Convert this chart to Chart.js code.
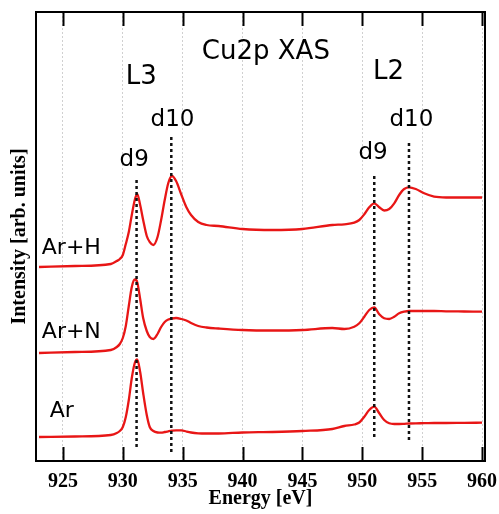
<!DOCTYPE html>
<html>
<head>
<meta charset="utf-8">
<script src="https://cdn.jsdelivr.net/npm/chart.js@4"></script>
<style>
  html, body { margin: 0; padding: 0; background: #fff; }
  #wrap { width: 499px; height: 514px; }
</style>
</head>
<body>
<div id="wrap"><canvas id="chart" width="499" height="514"></canvas></div>
<script>
// photon energy (eV), shared by the three spectra
const energy = [923, 926,
    929.0, 929.5, 929.75, 930.0, 930.25, 930.5, 930.75, 931.0, 931.2, 931.45, 931.7, 932.0, 932.25,
    932.55, 932.9, 933.2, 933.5, 933.8, 934.1, 934.45, 934.9, 935.3, 935.7, 936.3, 937.0, 938.0,
    940, 942.5, 945, 947.5,
    948.5, 949.33, 949.75, 950.17, 950.58, 951.0, 951.42, 951.83, 952.25, 952.67, 953.08, 953.5,
    953.92, 954.47, 955.17, 956.0, 957.0, 958.5, 960];

// intensity, arbitrary units (curves are offset vertically)
const arH = [194, 195,
    197, 200, 202, 206, 217, 229, 246, 261, 267, 256, 241, 225, 219,
    216, 224, 241, 261, 278, 285, 280, 266, 254, 246, 239, 236, 235,
    232, 231, 232, 236,
    236.7, 238.3, 241, 246.7, 253.7, 257.7, 253.7, 250.5, 252, 257.7, 266, 272,
    273.7, 272, 267.7, 264.3, 263.5, 263.5, 263.5];
const arN = [108, 109,
    111, 114, 117, 123, 135, 155, 174, 181.5, 179, 162, 143, 130, 124,
    122, 127, 134, 139, 141.5, 142.5, 143, 142, 140.5, 138, 135, 133.5, 132.5,
    131, 130.5, 131, 133,
    132, 134.3, 137.7, 144.3, 151, 153.5, 146.7, 142.7, 142, 144.3, 147.7, 149.3,
    150, 150, 150, 150, 149.7, 149.5, 149.3];
const ar = [24, 24.5,
    26, 28, 30, 34, 44, 61, 83, 98, 101.5, 89, 68, 46, 34,
    30, 28.5, 28.3, 29, 29.7, 30.3, 30.7, 30.7, 29.5, 28.5, 27.7, 27.5, 27.5,
    28.5, 29, 30, 32,
    35, 36.5, 38.5, 44.3, 51, 54.3, 47.7, 41, 37.7, 37, 37, 37.2,
    37.5, 37.7, 37.8, 38, 38, 38.2, 38.3];

// d9 / d10 reference lines
const markerEnergy = [931.15, 934.05, 951.0, 953.9];
const markerLow    = [14, 9, 24, 21];
const markerHigh   = [284, 324, 286, 318];

const tickValues = [925, 930, 935, 940, 945, 950, 955, 960];

// text placed in data coordinates
const notes = [
    { text: 'Cu2p XAS', x: 941.95, y: 409, size: 26 },
    { text: 'L3', x: 931.55, y: 384, size: 26 },
    { text: 'L2', x: 952.2, y: 389, size: 26 },
    { text: 'd10', x: 934.15, y: 341, size: 23 },
    { text: 'd9', x: 930.95, y: 301, size: 23 },
    { text: 'd9', x: 950.9, y: 308, size: 23 },
    { text: 'd10', x: 954.1, y: 341, size: 23 },
    { text: 'Ar+H', x: 925.7, y: 213, size: 22 },
    { text: 'Ar+N', x: 925.7, y: 129, size: 22 },
    { text: 'Ar', x: 924.9, y: 50, size: 22 }
];

const RED = 'rgb(232, 22, 22)';

function spectrum(label, values) {
    return {
        label: label,
        data: energy.map((e, i) => ({ x: e, y: values[i] })),
        borderColor: RED,
        borderWidth: 2.3,
        pointRadius: 0,
        cubicInterpolationMode: 'monotone',
        fill: false
    };
}

const datasets = [];
// dashed lines first so they are drawn over the spectra
markerEnergy.forEach((e, i) => {
    datasets.push({
        label: 'marker' + i,
        data: [{ x: e, y: markerLow[i] }, { x: e, y: markerHigh[i] }],
        borderColor: '#111',
        borderWidth: 2.5,
        borderDash: [3, 3],
        pointRadius: 0
    });
});
datasets.push(spectrum('Ar+H', arH));
datasets.push(spectrum('Ar+N', arN));
datasets.push(spectrum('Ar', ar));

// frame, inward ticks and the text labels
const decorations = {
    id: 'decorations',
    afterDraw(chart) {
        const ctx = chart.ctx;
        const area = chart.chartArea;
        const xs = chart.scales.x;
        const ys = chart.scales.y;
        ctx.save();
        ctx.strokeStyle = '#000';
        ctx.lineWidth = 2;
        ctx.strokeRect(area.left, area.top, area.right - area.left, area.bottom - area.top);
        tickValues.forEach(v => {
            const px = Math.round(xs.getPixelForValue(v)) + 0.5;
            ctx.beginPath();
            ctx.moveTo(px, area.top);
            ctx.lineTo(px, area.top + 14);
            ctx.moveTo(px, area.bottom);
            ctx.lineTo(px, area.bottom - 14);
            ctx.stroke();
        });
        ctx.fillStyle = '#000';
        ctx.textAlign = 'center';
        ctx.textBaseline = 'middle';
        notes.forEach(n => {
            ctx.font = n.size + 'px "DejaVu Sans"';
            ctx.fillText(n.text, xs.getPixelForValue(n.x), ys.getPixelForValue(n.y));
        });
        ctx.restore();
    }
};

const ctx = document.getElementById('chart').getContext('2d');
const chart = new Chart(ctx, {
    type: 'line',
    data: { datasets: datasets },
    options: {
        responsive: false,
        animation: false,
        layout: { padding: { left: 0, top: 12, right: 14, bottom: 0 } },
        plugins: {
            legend: { display: false },
            tooltip: { enabled: false }
        },
        scales: {
            x: {
                type: 'linear',
                min: 922.75,
                max: 960.25,
                afterBuildTicks: scale => { scale.ticks = tickValues.map(v => ({ value: v })); },
                afterFit: scale => {
                    scale.height = 53;
                    scale.paddingLeft = 0;
                    scale.paddingRight = 0;
                },
                grid: {
                    display: true,
                    drawTicks: false,
                    color: '#d0d0d0',
                    lineWidth: 1
                },
                border: { display: false, dash: [2, 2] },
                ticks: {
                    padding: 9,
                    color: '#000',
                    font: { family: '"Liberation Serif"', size: 20, weight: 'bold' }
                },
                title: {
                    display: true,
                    text: 'Energy [eV]',
                    color: '#000',
                    padding: { top: 0, bottom: 3 },
                    font: { family: '"Liberation Serif"', size: 20, weight: 'bold' }
                }
            },
            y: {
                type: 'linear',
                min: 0,
                max: 449,
                afterFit: scale => { scale.width = 36; },
                grid: { display: false },
                border: { display: false },
                ticks: { display: false },
                title: {
                    display: true,
                    text: 'Intensity [arb. units]',
                    color: '#000',
                    padding: { top: 8, bottom: 0 },
                    font: { family: '"Liberation Serif"', size: 20, weight: 'bold' }
                }
            }
        }
    },
    plugins: [decorations]
});
</script>
</body>
</html>
